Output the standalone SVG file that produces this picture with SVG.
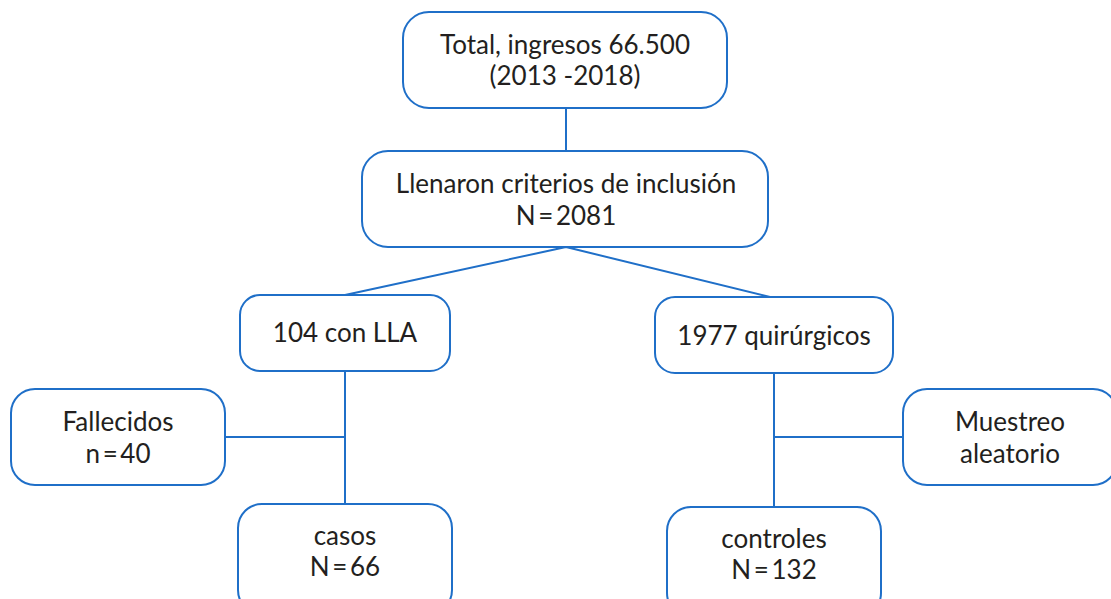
<svg xmlns="http://www.w3.org/2000/svg" width="1111" height="599" viewBox="0 0 1111 599">
<style>
.box{fill:#fff;stroke:#1f6fc8;stroke-width:2}
.ln{fill:none;stroke:#1f6fc8;stroke-width:2}
text{font-family:Lato,"Open Sans","Liberation Sans",sans-serif;font-size:26px;fill:#231f20;text-anchor:middle}
.eq{word-spacing:-4px}
</style>
<rect width="1111" height="599" fill="#fff"/>
<g id="connectors">
<path class="ln" d="M566 108V152"/>
<path class="ln" d="M566 247L345 295M566 247L770 297"/>
<path class="ln" d="M345 371V504M226 437H345"/>
<path class="ln" d="M774 371V507M774 437H903"/>
</g>
<g id="n-total"><rect class="box" x="403" y="12" width="324" height="96" rx="26"/><text x="565" y="54">Total, ingresos 66.500</text><text x="565" y="85">(2013 -2018)</text></g>
<g id="n-criterios"><rect class="box" x="362" y="151" width="406" height="96" rx="26"/><text x="566" y="193">Llenaron criterios de inclusión</text><text class="eq" x="566" y="225">N = 2081</text></g>
<g id="n-lla"><rect class="box" x="240" y="295" width="210" height="76" rx="20"/><text x="345" y="342">104 con LLA</text></g>
<g id="n-quir"><rect class="box" x="655" y="297" width="238" height="76" rx="20"/><text x="774" y="345">1977 quirúrgicos</text></g>
<g id="n-fallecidos"><rect class="box" x="11" y="389" width="214" height="96" rx="24"/><text x="118" y="431">Fallecidos</text><text class="eq" x="118" y="463">n = 40</text></g>
<g id="n-muestreo"><rect class="box" x="903" y="389" width="214" height="96" rx="24"/><text x="1010" y="431">Muestreo</text><text x="1010" y="463">aleatorio</text></g>
<g id="n-casos"><rect class="box" x="238" y="504" width="214" height="110" rx="24"/><text x="345" y="545">casos</text><text class="eq" x="345" y="576">N = 66</text></g>
<g id="n-controles"><rect class="box" x="667" y="507" width="214" height="110" rx="24"/><text x="774" y="548">controles</text><text class="eq" x="774" y="579">N = 132</text></g>
</svg>
